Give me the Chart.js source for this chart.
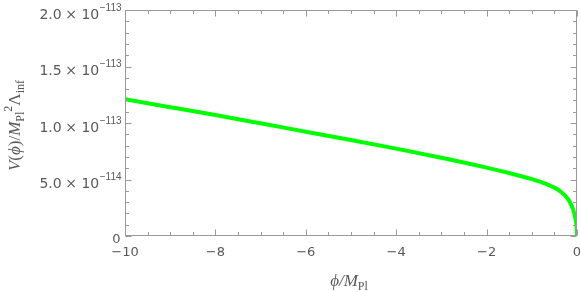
<!DOCTYPE html>
<html>
<head>
<meta charset="utf-8">
<script src="https://cdn.jsdelivr.net/npm/chart.js@4"></script>
<style>
  html, body { margin: 0; padding: 0; background: #fff; }
  #wrap { width: 581px; height: 292px; }
</style>
</head>
<body>
<div id="wrap"><canvas id="chart" width="581" height="292"></canvas></div>
<script>
// phi / M_Pl
const phiValues = [-10, -9, -8, -7, -6, -5, -4, -3, -2, -1.5, -1, -0.8, -0.5, -0.35, -0.2, -0.13, -0.08, -0.05, -0.02, -0.005, 0];
// V(phi) / (M_Pl^2 Lambda_inf), in units of 1e-113
const potentialValues = [1.21, 1.14, 1.07, 0.997, 0.923, 0.849, 0.773, 0.692, 0.605, 0.557, 0.503, 0.478, 0.428, 0.39, 0.328, 0.278, 0.228, 0.182, 0.12, 0.06, 0];

const xTickValues = [-10, -8, -6, -4, -2, 0];
const xTickLabels = ['\u221210', '\u22128', '\u22126', '\u22124', '\u22122', '0'];
const yTickValues = [0, 0.5, 1.0, 1.5, 2.0];
const yTickMantissas = ['0', '5.0', '1.0', '1.5', '2.0'];
const yTickExponents = ['', '\u2212114', '\u2212113', '\u2212113', '\u2212113'];

const frameColor = '#999999';
const textColor = '#595959';
const sansFont = '"DejaVu Sans", sans-serif';
const expFont = '"Liberation Sans", Arial, sans-serif';
const serifFont = '"Liberation Serif", "Times New Roman", serif';

// draws a run of text pieces along the current baseline, centred on cx
function drawRich(ctx, pieces, cx, cy) {
  let total = 0;
  pieces.forEach(p => { ctx.font = p.font; total += ctx.measureText(p.text).width; });
  let x = cx - total / 2;
  ctx.textAlign = 'left';
  ctx.textBaseline = 'alphabetic';
  pieces.forEach(p => {
    ctx.font = p.font;
    ctx.fillText(p.text, x, cy + (p.dy || 0));
    x += ctx.measureText(p.text).width;
  });
}

const framePlugin = {
  id: 'mmaFrame',
  afterDraw(chart) {
    const { ctx, chartArea: a, scales: { x, y } } = chart;
    const L = Math.round(a.left) + 0.5, R = Math.round(a.right) - 0.5;
    const T = Math.round(a.top) + 0.5, B = Math.round(a.bottom) - 0.5;
    ctx.save();
    ctx.strokeStyle = frameColor;
    ctx.lineWidth = 1;
    ctx.strokeRect(L, T, R - L, B - T);

    ctx.beginPath();
    // x ticks (major every 2, minor every 0.5)
    for (let i = 0; i <= 20; i++) {
      const v = -10 + i * 0.5;
      const len = i % 4 === 0 ? 6 : 3.5;
      const px = Math.round(x.getPixelForValue(v)) + 0.5;
      ctx.moveTo(px, B); ctx.lineTo(px, B - len);
      ctx.moveTo(px, T); ctx.lineTo(px, T + len);
    }
    // y ticks (major every 0.5, minor every 0.1)
    for (let i = 0; i <= 20; i++) {
      const v = i * 0.1;
      const len = i % 5 === 0 ? 6 : 3.5;
      const py = Math.round(y.getPixelForValue(v)) + 0.5;
      ctx.moveTo(L, py); ctx.lineTo(L + len, py);
      ctx.moveTo(R, py); ctx.lineTo(R - len, py);
    }
    ctx.stroke();

    ctx.fillStyle = textColor;
    // x tick labels
    ctx.font = '13px ' + sansFont;
    ctx.textAlign = 'center';
    ctx.textBaseline = 'alphabetic';
    xTickValues.forEach((v, i) => {
      ctx.fillText(xTickLabels[i], x.getPixelForValue(v), a.bottom + 19.5);
    });

    // y tick labels: mantissa x 10 with superscript exponent
    const rightEdge = a.left - 3.5;
    yTickValues.forEach((v, i) => {
      const py = y.getPixelForValue(v);
      ctx.textAlign = 'right';
      if (!yTickExponents[i]) {
        ctx.font = '13px ' + sansFont;
        ctx.fillText(yTickMantissas[i], rightEdge - 1, py + 7);
        return;
      }
      ctx.font = '10px ' + expFont;
      let xr = rightEdge;
      ctx.fillText(yTickExponents[i], xr, py + 0.5);
      xr -= ctx.measureText(yTickExponents[i]).width + 0.5;
      ctx.font = '14px ' + sansFont;
      ctx.fillText('10', xr, py + 8.5);
      xr -= ctx.measureText('10').width + 4.5;
      ctx.fillText('\u00d7', xr, py + 8.5);
      xr -= ctx.measureText('\u00d7').width + 3.5;
      ctx.fillText(yTickMantissas[i], xr, py + 8.5);
    });

    // axis titles
    const it = 'italic 17px ' + serifFont, rm = '17px ' + serifFont, sm = '12px ' + serifFont;
    drawRich(ctx, [
      { text: '\u03d5/', font: it },
      { text: 'M', font: it },
      { text: 'Pl', font: sm, dy: 4 }
    ], 349, 286);

    ctx.translate(20, 125.5);
    ctx.rotate(-Math.PI / 2);
    drawRich(ctx, [
      { text: 'V', font: it },
      { text: '(', font: rm },
      { text: '\u03d5', font: it },
      { text: ')/', font: rm },
      { text: 'M', font: it },
      { text: 'Pl', font: sm, dy: 4 },
      { text: '2', font: sm, dy: -8 },
      { text: '\u039b', font: rm },
      { text: 'inf', font: sm, dy: 4 }
    ], 0, 0);
    ctx.restore();
  }
};

new Chart(document.getElementById('chart').getContext('2d'), {
  type: 'line',
  data: {
    datasets: [{
      data: phiValues.map((p, i) => ({ x: p, y: potentialValues[i] })),
      borderColor: '#00ff00',
      borderWidth: 4,
      pointRadius: 0,
      cubicInterpolationMode: 'monotone',
      fill: false
    }]
  },
  options: {
    responsive: false,
    animation: false,
    devicePixelRatio: 1,
    layout: { padding: { left: 0, right: 4, top: 10, bottom: 0 } },
    plugins: { legend: { display: false }, tooltip: { enabled: false } },
    scales: {
      x: {
        type: 'linear', min: -10, max: 0,
        ticks: { display: false },
        grid: { display: false },
        border: { display: false },
        afterFit: s => { s.height = 56; }
      },
      y: {
        type: 'linear', min: 0, max: 2,
        ticks: { display: false },
        grid: { display: false },
        border: { display: false },
        afterFit: s => { s.width = 125; }
      }
    }
  },
  plugins: [framePlugin]
});
</script>
</body>
</html>
